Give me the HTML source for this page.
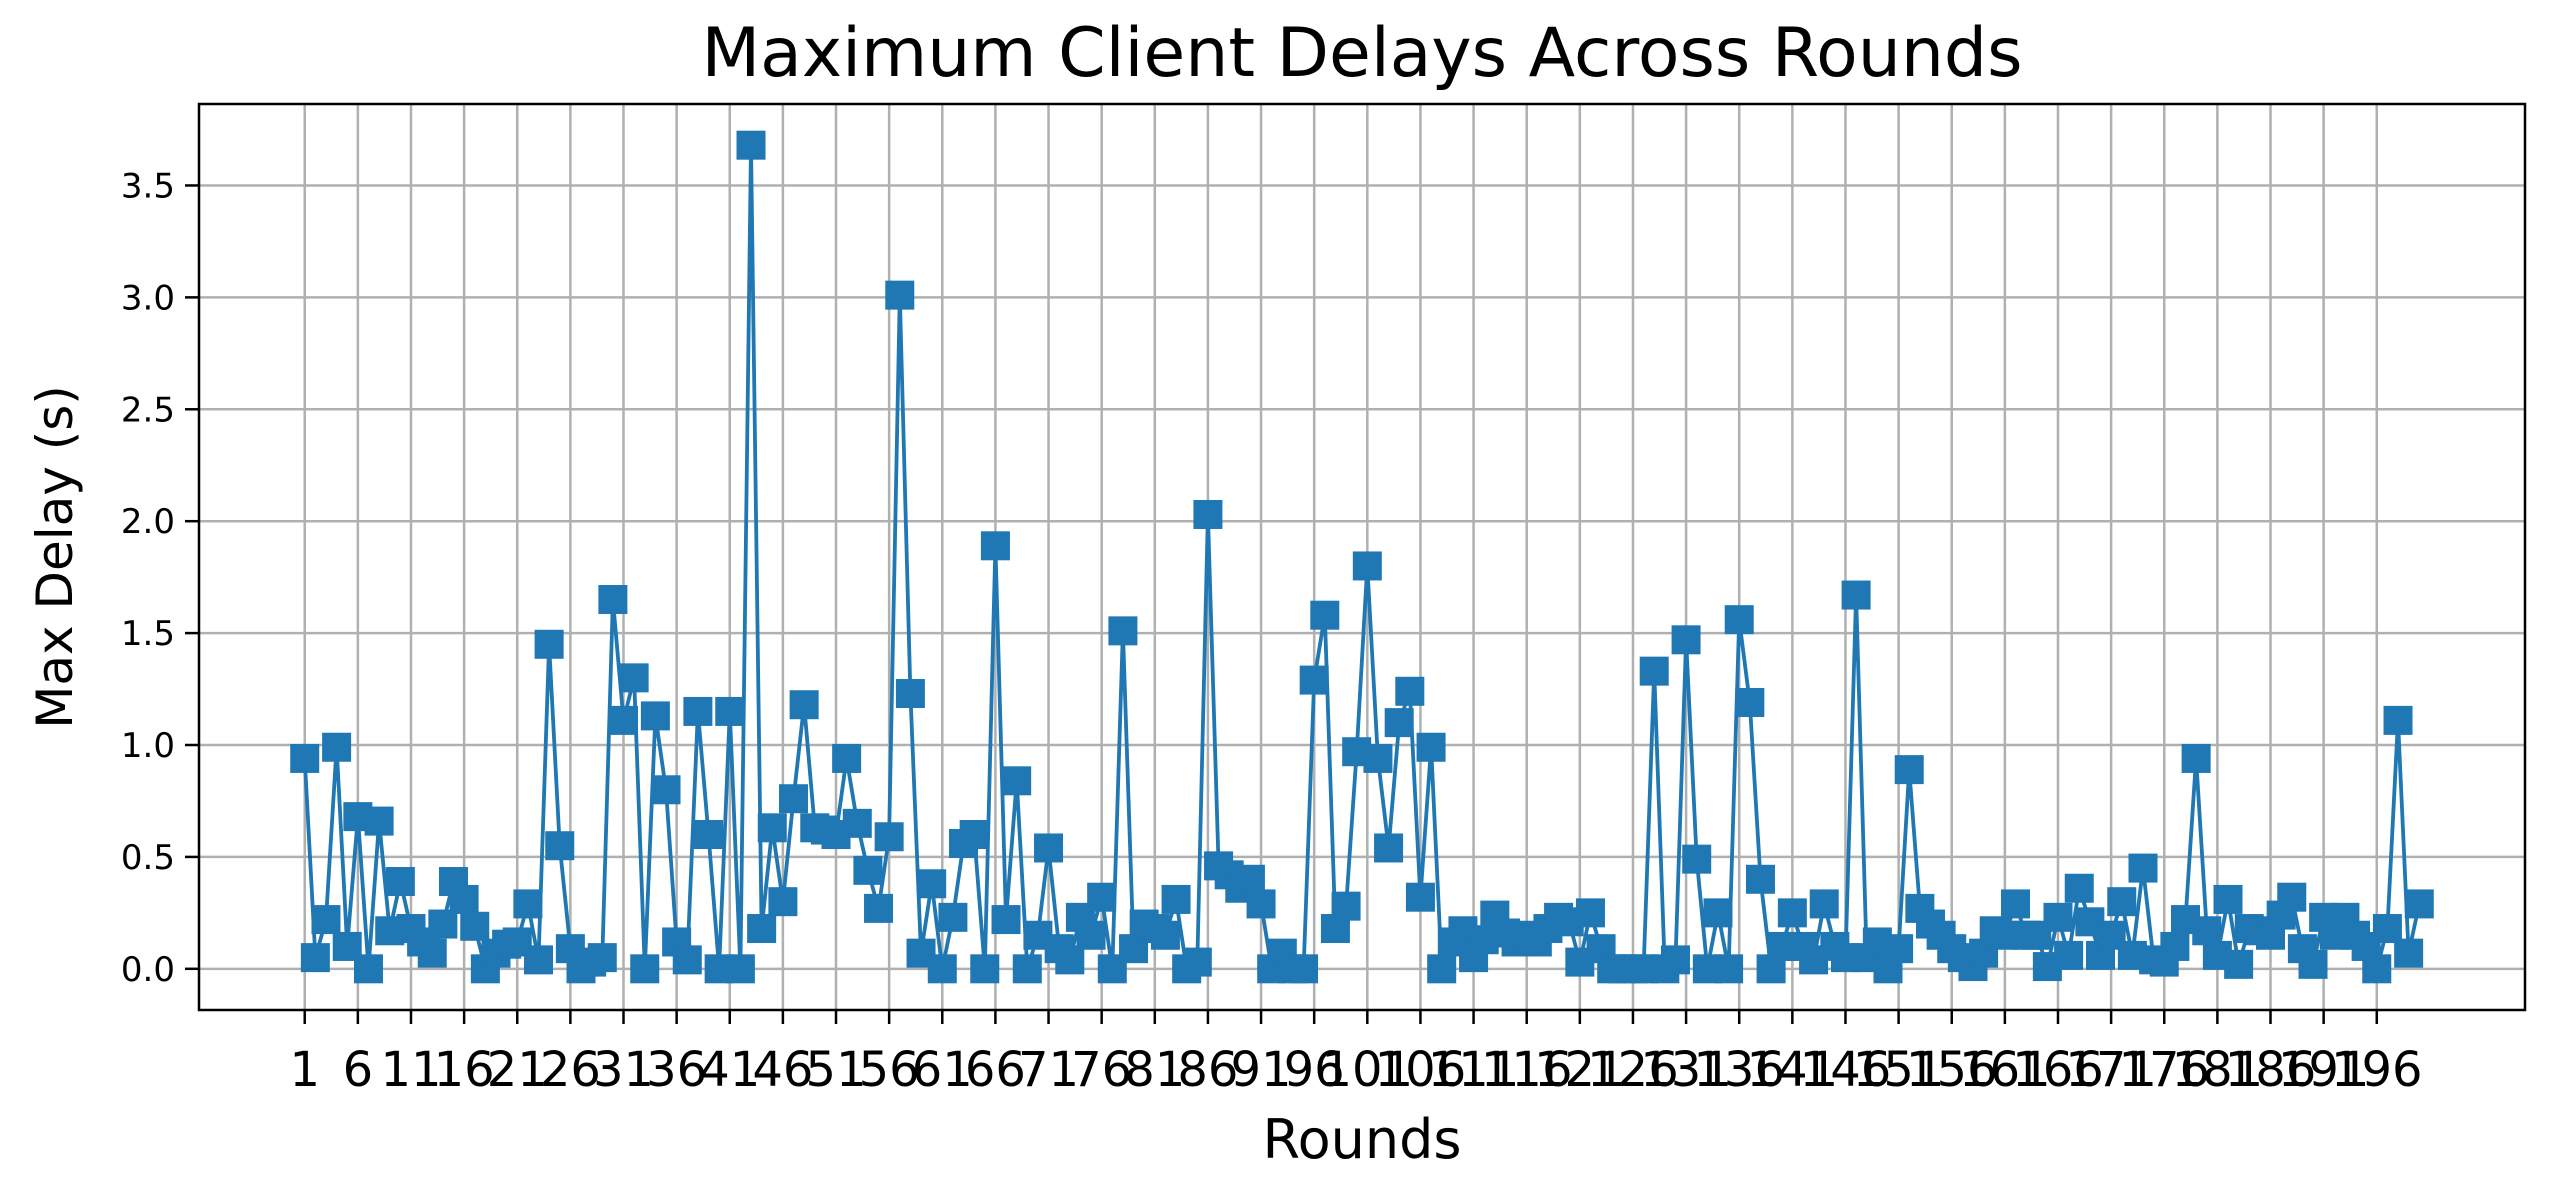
<!DOCTYPE html>
<html>
<head>
<meta charset="utf-8">
<style>
  html,body{margin:0;padding:0;background:#fff;}
  svg{display:block;}
  text{font-family:"DejaVu Sans","Liberation Sans",sans-serif;fill:#000;}
</style>
</head>
<body>
<svg id="chart" width="2554" height="1200" viewBox="0 0 2554 1200" xmlns="http://www.w3.org/2000/svg">
  <rect x="0" y="0" width="2554" height="1200" fill="#fff"/>
  <g id="grid"></g>
  <g id="series"></g>
  <rect x="199" y="104" width="2326" height="906" fill="none" stroke="#000" stroke-width="2.5"/>
  <g id="axes"></g>
  <text x="1362" y="76" font-size="68" text-anchor="middle">Maximum Client Delays Across Rounds</text>
  <text x="1362" y="1158" font-size="54" text-anchor="middle">Rounds</text>
  <text x="0" y="0" font-size="50" text-anchor="middle" transform="translate(72,557) rotate(-90)">Max Delay (s)</text>
</svg>
<script>
const delays = [
0.94,0.05,0.22,0.99,0.10,0.68,0.00,0.66,0.17,0.39,
0.18,0.12,0.07,0.20,0.39,0.31,0.19,0.00,0.07,0.11,
0.12,0.29,0.04,1.45,0.55,0.09,0.00,0.03,0.05,1.65,
1.11,1.30,0.00,1.13,0.80,0.12,0.04,1.15,0.60,0.00,
1.15,0.00,3.68,0.18,0.63,0.30,0.76,1.18,0.63,0.62,
0.60,0.94,0.65,0.44,0.27,0.59,3.01,1.23,0.07,0.38,
0.00,0.23,0.56,0.60,0.00,1.89,0.22,0.84,0.00,0.15,
0.54,0.09,0.04,0.23,0.15,0.32,0.00,1.51,0.09,0.20,
0.18,0.15,0.31,0.00,0.03,2.03,0.46,0.42,0.36,0.40,
0.29,0.00,0.07,0.00,0.00,1.29,1.58,0.18,0.28,0.97,
1.80,0.94,0.54,1.10,1.24,0.32,0.99,0.00,0.12,0.17,
0.05,0.13,0.24,0.16,0.12,0.15,0.12,0.18,0.23,0.21,
0.03,0.25,0.09,0.00,0.00,0.00,0.00,1.33,0.00,0.04,
1.47,0.49,0.00,0.25,0.00,1.56,1.19,0.40,0.00,0.10,
0.25,0.10,0.04,0.29,0.10,0.05,1.67,0.05,0.12,0.00,
0.09,0.89,0.27,0.20,0.15,0.09,0.05,0.01,0.07,0.17,
0.15,0.29,0.15,0.15,0.01,0.23,0.06,0.36,0.21,0.06,
0.15,0.30,0.06,0.45,0.04,0.03,0.10,0.22,0.94,0.17,
0.06,0.31,0.02,0.18,0.17,0.15,0.24,0.32,0.09,0.02,
0.23,0.15,0.23,0.15,0.10,0.00,0.18,1.11,0.07,0.29
];
const rounds = delays.map((d, i) => i + 1);
const yTicks = [0.0, 0.5, 1.0, 1.5, 2.0, 2.5, 3.0, 3.5];
const yTickLabels = ["0.0","0.5","1.0","1.5","2.0","2.5","3.0","3.5"];
const xTicks = rounds.filter(r => (r - 1) % 5 === 0 && r <= 196);

const NS = "http://www.w3.org/2000/svg";
const L = 199, R = 2525, T = 104, B = 1010;
const n = rounds.length;
const xPad = 0.05 * (n - 1);
const xMin = 1 - xPad, xMax = n + xPad;
const yMax0 = Math.max(...delays);
const yPad = 0.05 * yMax0;
const yMin = 0 - yPad, yMax = yMax0 + yPad;
function xScale(r){ return L + (r - xMin) / (xMax - xMin) * (R - L); }
function yScale(v){ return B - (v - yMin) / (yMax - yMin) * (B - T); }

function mk(tag, attrs, parent){
  const el = document.createElementNS(NS, tag);
  for (const k in attrs) el.setAttribute(k, attrs[k]);
  parent.appendChild(el);
  return el;
}
const grid = document.getElementById('grid');
const axes = document.getElementById('axes');
const series = document.getElementById('series');

yTicks.forEach((v, i) => {
  const y = yScale(v);
  const g = mk('line', {x1:L, x2:R, y1:y, y2:y, stroke:'#b0b0b0', 'stroke-width':2.5}, grid);
  
  
  const t = mk('line', {x1:L-14, x2:L, y1:y, y2:y, stroke:'#000', 'stroke-width':2.5}, axes);
  
  
  const lb = mk('text', {x:L-24, y:y+12, 'font-size':34, 'text-anchor':'end'}, axes);
  lb.textContent = yTickLabels[i];
  
  
});

xTicks.forEach(r => {
  const x = xScale(r);
  const g = mk('line', {x1:x, x2:x, y1:T, y2:B, stroke:'#b0b0b0', 'stroke-width':2.5}, grid);
  
  
  const t = mk('line', {x1:x, x2:x, y1:B, y2:B+14, stroke:'#000', 'stroke-width':2.5}, axes);
  
  
  const lb = mk('text', {x:x, y:B+76, 'font-size':48, 'text-anchor':'middle'}, axes);
  lb.textContent = String(r);
  
  
});

const pts = delays.map((v, i) => xScale(rounds[i]).toFixed(1) + ',' + yScale(v).toFixed(1)).join(' ');
const line = mk('polyline', {points:pts, fill:'none', stroke:'#1f77b4', 'stroke-width':3.8, 'stroke-linejoin':'round'}, series);



const S = 29;
delays.forEach((v, i) => {
  const cx = xScale(rounds[i]), cy = yScale(v);
  const m = mk('rect', {x:cx - S/2, y:cy - S/2, width:S, height:S, fill:'#1f77b4'}, series);
  
  
});
</script>
</body>
</html>
